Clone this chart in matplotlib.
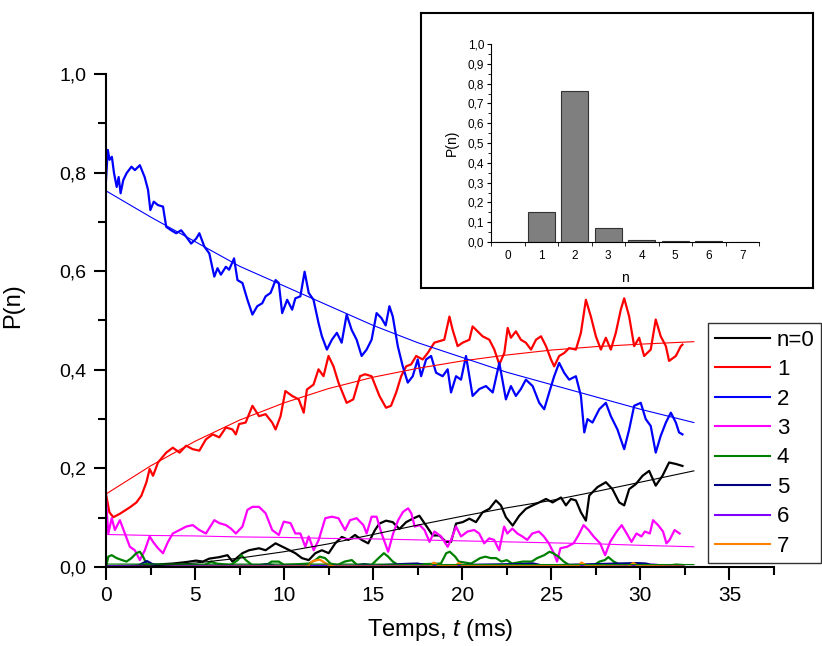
import numpy as np
import matplotlib
matplotlib.use('Agg')
import matplotlib.pyplot as plt
from matplotlib.ticker import MultipleLocator, FuncFormatter

plt.rcParams['font.family'] = ['Liberation Sans', 'DejaVu Sans']
plt.rcParams['mathtext.fontset'] = 'custom'
plt.rcParams['mathtext.it'] = 'Liberation Sans:italic'
plt.rcParams['mathtext.rm'] = 'Liberation Sans'

# measured traces, (t [ms], P)
p_n0 = [(0, 0.0), (1.5, 0.002), (2.83, 0.005), (3.75, 0.007), (4.5, 0.01), (5.06, 0.013), (5.43, 0.011),
        (5.8, 0.017), (6.36, 0.02), (6.82, 0.024), (7.1, 0.011), (7.66, 0.028), (8.03, 0.034), (8.59, 0.038),
        (8.96, 0.034), (9.52, 0.048), (10.08, 0.038), (10.63, 0.028), (11.0, 0.018), (11.38, 0.014),
        (11.75, 0.028), (12.12, 0.034), (12.5, 0.028), (12.87, 0.048), (13.24, 0.061), (13.61, 0.055),
        (13.98, 0.065), (14.35, 0.055), (14.72, 0.048), (15.1, 0.075), (15.35, 0.088), (15.72, 0.094),
        (16.1, 0.091), (16.47, 0.077), (16.85, 0.091), (17.22, 0.098), (17.59, 0.104), (17.97, 0.084),
        (18.34, 0.064), (18.71, 0.064), (19.09, 0.051), (19.37, 0.051), (19.65, 0.088), (20.02, 0.091),
        (20.4, 0.098), (20.77, 0.091), (21.14, 0.111), (21.52, 0.118), (21.89, 0.135), (22.17, 0.125),
        (22.45, 0.101), (22.83, 0.084), (23.2, 0.104), (23.57, 0.118), (23.95, 0.125), (24.32, 0.131),
        (24.7, 0.138), (25.07, 0.131), (25.54, 0.141), (25.82, 0.125), (26.1, 0.138), (26.38, 0.135),
        (26.66, 0.111), (26.94, 0.094), (27.13, 0.145), (27.59, 0.162), (28.06, 0.172), (28.43, 0.158),
        (28.81, 0.131), (29.09, 0.125), (29.37, 0.158), (29.74, 0.168), (30.12, 0.185), (30.49, 0.195),
        (30.86, 0.165), (31.24, 0.185), (31.61, 0.212), (31.99, 0.209), (32.36, 0.205)]

p_n1 = [(0, 0.148), (0.19, 0.111), (0.41, 0.101), (0.78, 0.108), (1.34, 0.121), (1.71, 0.131), (1.99, 0.145),
        (2.27, 0.172), (2.45, 0.199), (2.64, 0.185), (2.92, 0.212), (3.38, 0.232), (3.75, 0.242), (4.13, 0.232),
        (4.5, 0.246), (4.87, 0.239), (5.24, 0.236), (5.61, 0.259), (5.99, 0.269), (6.36, 0.263), (6.73, 0.283),
        (7.1, 0.279), (7.29, 0.269), (7.47, 0.29), (7.84, 0.293), (8.22, 0.327), (8.59, 0.306), (8.96, 0.31),
        (9.33, 0.293), (9.52, 0.279), (9.8, 0.306), (10.07, 0.357), (10.45, 0.347), (10.82, 0.34), (11.1, 0.313),
        (11.28, 0.36), (11.65, 0.37), (11.93, 0.401), (12.21, 0.387), (12.49, 0.428), (12.77, 0.407),
        (13.05, 0.374), (13.51, 0.333), (13.88, 0.34), (14.26, 0.387), (14.54, 0.391), (14.91, 0.387),
        (15.35, 0.347), (15.72, 0.323), (16.0, 0.327), (16.29, 0.354), (16.57, 0.387), (16.85, 0.407),
        (17.13, 0.411), (17.41, 0.428), (17.78, 0.421), (18.06, 0.434), (18.43, 0.455), (18.71, 0.458),
        (18.99, 0.461), (19.28, 0.508), (19.46, 0.481), (19.74, 0.448), (20.02, 0.455), (20.4, 0.461),
        (20.58, 0.488), (20.86, 0.478), (21.14, 0.468), (21.52, 0.461), (21.8, 0.441), (22.08, 0.411),
        (22.36, 0.434), (22.55, 0.485), (22.73, 0.465), (23.01, 0.478), (23.29, 0.461), (23.57, 0.455),
        (23.86, 0.441), (24.14, 0.461), (24.42, 0.468), (24.7, 0.448), (24.98, 0.421), (25.16, 0.407),
        (25.44, 0.428), (25.72, 0.434), (26.0, 0.444), (26.38, 0.441), (26.66, 0.475), (26.94, 0.542),
        (27.22, 0.508), (27.5, 0.468), (27.78, 0.441), (28.06, 0.465), (28.34, 0.441), (28.62, 0.475),
        (28.9, 0.522), (29.09, 0.545), (29.37, 0.508), (29.65, 0.448), (29.93, 0.465), (30.21, 0.428),
        (30.58, 0.441), (30.86, 0.502), (31.14, 0.468), (31.43, 0.448), (31.61, 0.418), (31.99, 0.428),
        (32.27, 0.448), (32.36, 0.451)]

p_n2 = [(0, 0.785), (0.1, 0.846), (0.2, 0.826), (0.33, 0.832), (0.45, 0.799), (0.6, 0.771), (0.71, 0.791),
        (0.82, 0.758), (0.97, 0.785), (1.16, 0.799), (1.43, 0.812), (1.62, 0.805), (1.9, 0.815), (2.08, 0.799),
        (2.17, 0.791), (2.36, 0.765), (2.49, 0.724), (2.68, 0.741), (2.92, 0.734), (3.2, 0.731), (3.38, 0.69),
        (3.66, 0.683), (3.94, 0.677), (4.22, 0.683), (4.5, 0.67), (4.78, 0.656), (5.06, 0.666), (5.24, 0.677),
        (5.52, 0.65), (5.8, 0.636), (6.08, 0.589), (6.26, 0.606), (6.45, 0.593), (6.73, 0.609), (6.91, 0.603),
        (7.19, 0.626), (7.38, 0.582), (7.66, 0.576), (7.94, 0.542), (8.22, 0.512), (8.49, 0.529), (8.77, 0.535),
        (8.96, 0.549), (9.24, 0.556), (9.52, 0.582), (9.7, 0.576), (9.89, 0.515), (10.17, 0.542), (10.45, 0.522),
        (10.63, 0.545), (10.91, 0.549), (11.15, 0.599), (11.38, 0.556), (11.65, 0.542), (11.93, 0.495),
        (12.12, 0.468), (12.4, 0.441), (12.68, 0.461), (12.96, 0.475), (13.23, 0.455), (13.51, 0.512),
        (13.79, 0.481), (14.07, 0.461), (14.35, 0.428), (14.63, 0.441), (14.91, 0.461), (15.19, 0.515),
        (15.46, 0.505), (15.7, 0.49), (15.91, 0.529), (16.1, 0.508), (16.38, 0.448), (16.66, 0.407),
        (16.94, 0.374), (17.22, 0.387), (17.5, 0.421), (17.69, 0.387), (17.97, 0.421), (18.25, 0.428),
        (18.53, 0.394), (18.9, 0.387), (19.18, 0.401), (19.37, 0.354), (19.65, 0.387), (19.93, 0.38),
        (20.21, 0.428), (20.58, 0.347), (20.96, 0.361), (21.33, 0.367), (21.71, 0.354), (22.08, 0.414),
        (22.45, 0.34), (22.73, 0.367), (23.01, 0.347), (23.29, 0.361), (23.57, 0.38), (23.95, 0.367),
        (24.32, 0.333), (24.6, 0.32), (24.88, 0.354), (25.16, 0.387), (25.44, 0.414), (25.72, 0.394),
        (26.0, 0.38), (26.38, 0.387), (26.66, 0.347), (26.85, 0.273), (27.03, 0.3), (27.31, 0.293),
        (27.69, 0.32), (28.06, 0.333), (28.34, 0.306), (28.71, 0.279), (29.09, 0.239), (29.37, 0.279),
        (29.65, 0.327), (30.02, 0.333), (30.3, 0.3), (30.58, 0.286), (30.86, 0.232), (31.14, 0.266),
        (31.43, 0.293), (31.71, 0.313), (31.99, 0.293), (32.17, 0.273), (32.36, 0.269)]

p_n3 = [(0, 0.136), (0.13, 0.068), (0.32, 0.099), (0.5, 0.075), (0.78, 0.095), (1.06, 0.068), (1.34, 0.041),
        (1.62, 0.034), (1.9, 0.014), (2.18, 0.034), (2.45, 0.062), (2.64, 0.051), (2.92, 0.038), (3.2, 0.028),
        (3.48, 0.051), (3.75, 0.068), (4.13, 0.075), (4.5, 0.082), (4.87, 0.085), (5.24, 0.075), (5.61, 0.068),
        (6.08, 0.095), (6.36, 0.089), (6.73, 0.085), (7.01, 0.078), (7.29, 0.068), (7.66, 0.082), (7.94, 0.116),
        (8.22, 0.122), (8.59, 0.122), (8.96, 0.109), (9.33, 0.075), (9.7, 0.065), (9.98, 0.092), (10.36, 0.089),
        (10.63, 0.068), (10.91, 0.068), (11.19, 0.041), (11.38, 0.062), (11.66, 0.034), (11.94, 0.055),
        (12.31, 0.099), (12.68, 0.102), (13.05, 0.099), (13.42, 0.075), (13.7, 0.095), (14.07, 0.099),
        (14.45, 0.085), (14.63, 0.068), (14.91, 0.102), (15.19, 0.102), (15.47, 0.068), (15.84, 0.031),
        (16.12, 0.068), (16.4, 0.095), (16.68, 0.112), (16.96, 0.119), (17.14, 0.109), (17.33, 0.082),
        (17.61, 0.085), (17.88, 0.075), (18.16, 0.051), (18.44, 0.072), (18.81, 0.062), (19.18, 0.041),
        (19.37, 0.055), (19.65, 0.082), (19.93, 0.062), (20.3, 0.072), (20.67, 0.075), (20.95, 0.068),
        (21.23, 0.048), (21.51, 0.058), (21.79, 0.055), (22.07, 0.034), (22.35, 0.082), (22.53, 0.068),
        (22.81, 0.078), (23.09, 0.068), (23.37, 0.062), (23.65, 0.055), (23.93, 0.068), (24.3, 0.072),
        (24.58, 0.062), (24.86, 0.048), (25.14, 0.028), (25.32, 0.011), (25.51, 0.038), (25.88, 0.041),
        (26.25, 0.048), (26.53, 0.065), (26.81, 0.085), (27.09, 0.075), (27.37, 0.062), (27.74, 0.048),
        (28.02, 0.024), (28.3, 0.051), (28.67, 0.072), (28.95, 0.085), (29.23, 0.068), (29.5, 0.051),
        (29.78, 0.068), (30.06, 0.062), (30.25, 0.072), (30.53, 0.068), (30.71, 0.095), (30.99, 0.085),
        (31.27, 0.072), (31.46, 0.048), (31.64, 0.055), (31.92, 0.075), (32.2, 0.068)]

p_n4 = [(0, 0.0), (0.13, 0.021), (0.32, 0.024), (0.6, 0.018), (0.9, 0.014), (1.15, 0.011), (1.43, 0.018),
        (1.7, 0.028), (1.9, 0.031), (2.08, 0.021), (2.27, 0.007), (2.55, 0.004), (3.5, 0.003), (4.5, 0.004),
        (5.5, 0.003), (5.9, 0.011), (6.2, 0.007), (7.0, 0.004), (7.4, 0.014), (7.6, 0.024), (7.85, 0.014),
        (8.2, 0.004), (9.0, 0.004), (9.3, 0.011), (9.7, 0.011), (10.0, 0.004), (11.4, 0.007), (11.75, 0.014),
        (12.0, 0.021), (12.3, 0.018), (12.6, 0.007), (13.0, 0.004), (13.4, 0.011), (13.8, 0.014), (14.1, 0.004),
        (14.9, 0.004), (15.3, 0.018), (15.6, 0.028), (15.84, 0.021), (16.1, 0.011), (16.4, 0.004), (18.8, 0.007),
        (19.1, 0.028), (19.3, 0.031), (19.6, 0.021), (19.8, 0.011), (20.5, 0.007), (21.0, 0.018), (21.3, 0.021),
        (21.6, 0.018), (21.9, 0.018), (22.2, 0.011), (22.5, 0.014), (22.8, 0.007), (23.4, 0.011), (23.9, 0.011),
        (24.2, 0.018), (24.6, 0.024), (24.9, 0.031), (25.1, 0.028), (25.4, 0.021), (25.7, 0.011), (26.0, 0.004),
        (27.4, 0.004), (27.7, 0.011), (28.0, 0.014), (28.2, 0.02), (28.5, 0.011), (28.9, 0.004), (31.6, 0.003),
        (32.0, 0.005), (32.4, 0.004)]

p_n5 = [(0, 0.002), (1.8, 0.003), (2.3, 0.012), (2.6, 0.006), (3.0, 0.003), (8.5, 0.003), (9.0, 0.006),
        (9.5, 0.003), (14.0, 0.003), (14.5, 0.006), (15.0, 0.003), (16.6, 0.006), (17.5, 0.007), (18.0, 0.003),
        (23.3, 0.006), (24.0, 0.007), (24.5, 0.003), (29.8, 0.008), (30.3, 0.007), (30.8, 0.003), (32.4, 0.002)]

p_n6 = [(0, 0.001), (30.3, 0.002), (30.7, 0.005), (31.0, 0.004), (31.4, 0.001), (32.4, 0.001)]

p_n7 = [(0, 0.0), (11.3, 0.001), (11.6, 0.012), (12.0, 0.015), (12.4, 0.006), (12.8, 0.001), (18.2, 0.001),
        (18.4, 0.009), (18.7, 0.002), (19.6, 0.002), (19.8, 0.008), (20.1, 0.002), (26.5, 0.002), (26.7, 0.009),
        (27.0, 0.002), (29.3, 0.001), (29.6, 0.008), (29.9, 0.002), (32.4, 0.001)]

# fitted curves
fit_t = [0, 2.5, 5, 7.5, 10, 12.5, 15, 17.5, 20, 22.5, 25, 27.5, 30, 33]
fit_n0 = [0.0, 0.002, 0.008, 0.018, 0.031, 0.047, 0.066, 0.085, 0.103, 0.12, 0.135, 0.153, 0.172, 0.195]
fit_n1 = [0.148, 0.205, 0.255, 0.298, 0.333, 0.362, 0.385, 0.403, 0.418, 0.43, 0.44, 0.447, 0.452, 0.457]
fit_n2 = [0.763, 0.71, 0.66, 0.61, 0.57, 0.53, 0.49, 0.455, 0.425, 0.395, 0.37, 0.345, 0.32, 0.293]
fit_n3 = [0.066, 0.064, 0.063, 0.061, 0.06, 0.058, 0.057, 0.055, 0.053, 0.051, 0.049, 0.047, 0.044, 0.041]
fit_n4 = [0.006] * 7 + [0.005] * 7
fit_n5 = [0.003] * 14
fit_n6 = [0.002] * 14
fit_n7 = [0.0005] * 14

labels = ['n=0', '1', '2', '3', '4', '5', '6', '7']
colors = ['black', '#ff0000', '#0000ff', '#ff00ff', '#008000', '#000080', '#8000ff', '#ff8000']

# inset: distribution at t = 0
n_vals = [0, 1, 2, 3, 4, 5, 6, 7]
p_hist = [0.0, 0.15, 0.765, 0.07, 0.008, 0.006, 0.004, 0.0]

traces = [p_n0, p_n1, p_n2, p_n3, p_n4, p_n5, p_n6, p_n7]
fits = [fit_n0, fit_n1, fit_n2, fit_n3, fit_n4, fit_n5, fit_n6, fit_n7]


def comma(v, pos):
    return '{:.1f}'.format(v).replace('.', ',')


fig = plt.figure(figsize=(8.22, 6.46), dpi=100)
ax = fig.add_axes([106/822, 79/646, 668/822, 493/646])

handles = []
for data, lab, col in zip(traces, labels, colors):
    arr = np.array(data)
    h, = ax.plot(arr[:, 0], arr[:, 1], color=col, lw=1.6, label=lab)
    handles.append(h)
for fit, col in zip(fits, colors):
    ax.plot(fit_t, fit, color=col, lw=0.8)

ax.set_xlim(0, 37.5)
ax.set_ylim(0, 1.0)
ax.spines['top'].set_visible(False)
ax.spines['right'].set_visible(False)
for s in ['left', 'bottom']:
    ax.spines[s].set_linewidth(1.5)
ax.xaxis.set_major_locator(MultipleLocator(5))
ax.xaxis.set_minor_locator(MultipleLocator(2.5))
ax.yaxis.set_major_locator(MultipleLocator(0.2))
ax.yaxis.set_minor_locator(MultipleLocator(0.1))
ax.yaxis.set_major_formatter(FuncFormatter(comma))
ax.tick_params(which='major', direction='out', length=9, width=1.5, labelsize=14, pad=5)
ax.tick_params(axis='x', which='major', labelsize=15)
ax.tick_params(which='minor', direction='out', length=6, width=1.5)
ax.set_xlabel('Temps, $t$ (ms)', fontsize=17, labelpad=8)
ax.set_ylabel('P(n)', fontsize=17)
ax.yaxis.set_label_coords(-0.123, 0.53)

leg = ax.legend(handles=handles, loc='upper left', bbox_to_anchor=(708/822, 323/646),
                bbox_transform=fig.transFigure, fontsize=16, frameon=True, fancybox=False,
                edgecolor='black', handlelength=2.5, handletextpad=0.3, labelspacing=0.38,
                borderpad=0.3, borderaxespad=0)
leg.get_frame().set_linewidth(1.0)
for line in leg.get_lines():
    line.set_linewidth(1.5)

# inset frame and histogram
frame = fig.add_axes([421/822, (646-288)/646, (813-421)/822, (288-13)/646])
frame.set_xticks([])
frame.set_yticks([])
for s in frame.spines.values():
    s.set_linewidth(1.5)

ins = fig.add_axes([491/822, (646-242)/646, (759-491)/822, (242-44)/646])
ins.bar(n_vals, p_hist, width=0.8, color='#7f7f7f', edgecolor='#333333', linewidth=0.8)
ins.set_xlim(-0.5, 7.5)
ins.set_ylim(0, 1.0)
ins.spines['top'].set_visible(False)
ins.spines['right'].set_visible(False)
ins.set_xticks(n_vals)
ins.set_xticks(np.arange(-0.5, 8, 1), minor=True)
ins.yaxis.set_major_locator(MultipleLocator(0.1))
ins.yaxis.set_minor_locator(MultipleLocator(0.05))
ins.yaxis.set_major_formatter(FuncFormatter(comma))
ins.tick_params(axis='x', which='major', length=0, labelsize=8.5, pad=6)
ins.tick_params(axis='x', which='minor', length=3, direction='out')
ins.tick_params(axis='y', which='major', length=3, direction='out', labelsize=8.5, pad=2)
ins.tick_params(axis='y', which='minor', length=2, direction='out')
ins.set_xlabel('n', fontsize=10, labelpad=6)
ins.set_ylabel('P(n)', fontsize=10, labelpad=6)

fig.savefig('out.png', dpi=100)
